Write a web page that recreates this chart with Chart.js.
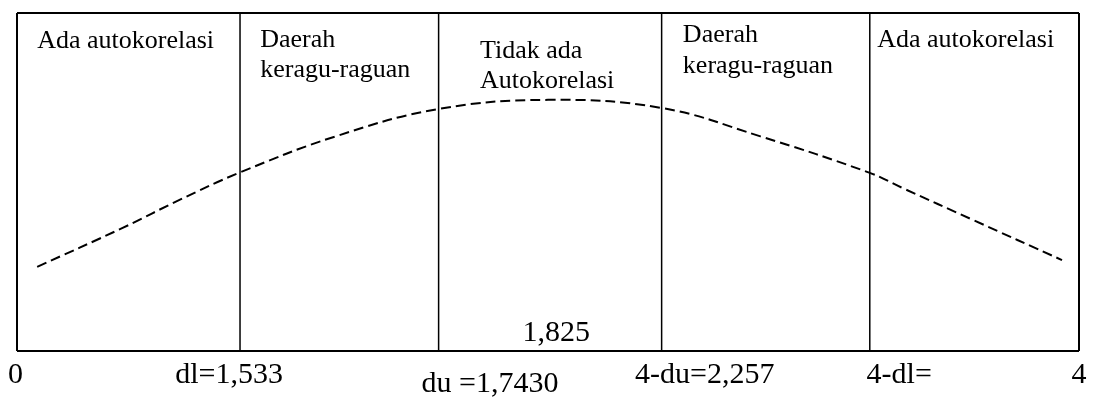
<!DOCTYPE html>
<html>
<head>
<meta charset="utf-8">
<script src="https://cdn.jsdelivr.net/npm/chart.js@4.4.1/dist/chart.umd.min.js"></script>
<style>
    html, body { margin: 0; padding: 0; background: #ffffff; }
    #wrap { width: 1094px; height: 400px; }
</style>
</head>
<body>
<div id="wrap"><canvas id="dwChart"></canvas></div>
<script>
// region boundaries along the axis (0..100 of the box width)
const boundaries = [0, 21, 39.7, 60.7, 80.3, 100];

// dashed curve
const curveX = [1.9, 10, 15.3, 20.9, 30, 39.7, 50, 60.7, 70, 80.3, 83.4, 90, 98.4];
const curveY = [24.9, 36.5, 44.7, 52.7, 63.5, 71.6, 74.3, 71.9, 63.5, 52.7, 48.2, 38.8, 26.9];

// text inside the regions
const regionLabels = [
    ['Ada autokorelasi'],
    ['Daerah', 'keragu-raguan'],
    ['Tidak ada', 'Autokorelasi'],
    ['Daerah', 'keragu-raguan'],
    ['Ada autokorelasi']
];

// values under the axis
const axisLabels = ['0', 'dl=1,533', 'du =1,7430', '4-du=2,257', '4-dl=', '4'];
const statLabel = '1,825';

const serif = '"Liberation Serif", "Times New Roman", serif';

const datasets = [];

datasets.push({
    data: curveX.map((x, i) => ({ x: x, y: curveY[i] })),
    borderColor: '#000000',
    borderWidth: 2,
    borderDash: [10, 5],
    pointRadius: 0,
    tension: 0.4,
    fill: false,
    clip: false
});

boundaries.forEach((b, i) => {
    const edge = i === 0 || i === boundaries.length - 1;
    datasets.push({
        data: [{ x: b, y: 0 }, { x: b, y: 100 }],
        borderColor: '#000000',
        borderWidth: edge ? 2 : 1.5,
        pointRadius: 0,
        fill: false,
        clip: false
    });
});

[0, 100].forEach(level => {
    datasets.push({
        data: [{ x: boundaries[0], y: level }, { x: boundaries[boundaries.length - 1], y: level }],
        borderColor: '#000000',
        borderWidth: 2,
        pointRadius: 0,
        fill: false,
        clip: false
    });
});

// where the texts go, in axis units (x = left edge, y = baseline)
const regionTextPos = [
    [[1.9, 89.6]],
    [[22.9, 89.9], [22.9, 81.0]],
    [[43.6, 86.7], [43.6, 77.8]],
    [[62.7, 91.4], [62.7, 82.2]],
    [[81.0, 89.9]]
];
const axisTextPos = [[-0.85, -9.5], [14.9, -9.5], [38.1, -12.1], [58.2, -9.5], [80.0, -9.5], [99.3, -9.5]];
const statTextPos = [47.6, 3.0];

const textPlugin = {
    id: 'dwText',
    afterDatasetsDraw(chart) {
        const ctx = chart.ctx;
        const xs = chart.scales.x;
        const ys = chart.scales.y;
        ctx.save();
        ctx.fillStyle = '#000000';
        ctx.textAlign = 'left';
        ctx.textBaseline = 'alphabetic';

        ctx.font = '26px ' + serif;
        regionLabels.forEach((lines, r) => {
            lines.forEach((line, j) => {
                const p = regionTextPos[r][j];
                ctx.fillText(line, xs.getPixelForValue(p[0]), ys.getPixelForValue(p[1]));
            });
        });

        ctx.font = '30px ' + serif;
        axisLabels.forEach((t, i) => {
            const p = axisTextPos[i];
            ctx.fillText(t, xs.getPixelForValue(p[0]), ys.getPixelForValue(p[1]));
        });
        ctx.fillText(statLabel, xs.getPixelForValue(statTextPos[0]), ys.getPixelForValue(statTextPos[1]));
        ctx.restore();
    }
};

new Chart(document.getElementById('dwChart'), {
    type: 'line',
    data: { datasets: datasets },
    options: {
        responsive: true,
        maintainAspectRatio: false,
        animation: false,
        layout: { padding: { left: 17, right: 15, top: 13, bottom: 49 } },
        plugins: {
            legend: { display: false },
            tooltip: { enabled: false }
        },
        scales: {
            x: { type: 'linear', min: 0, max: 100, display: false },
            y: { type: 'linear', min: 0, max: 100, display: false }
        }
    },
    plugins: [textPlugin]
});
</script>
</body>
</html>
